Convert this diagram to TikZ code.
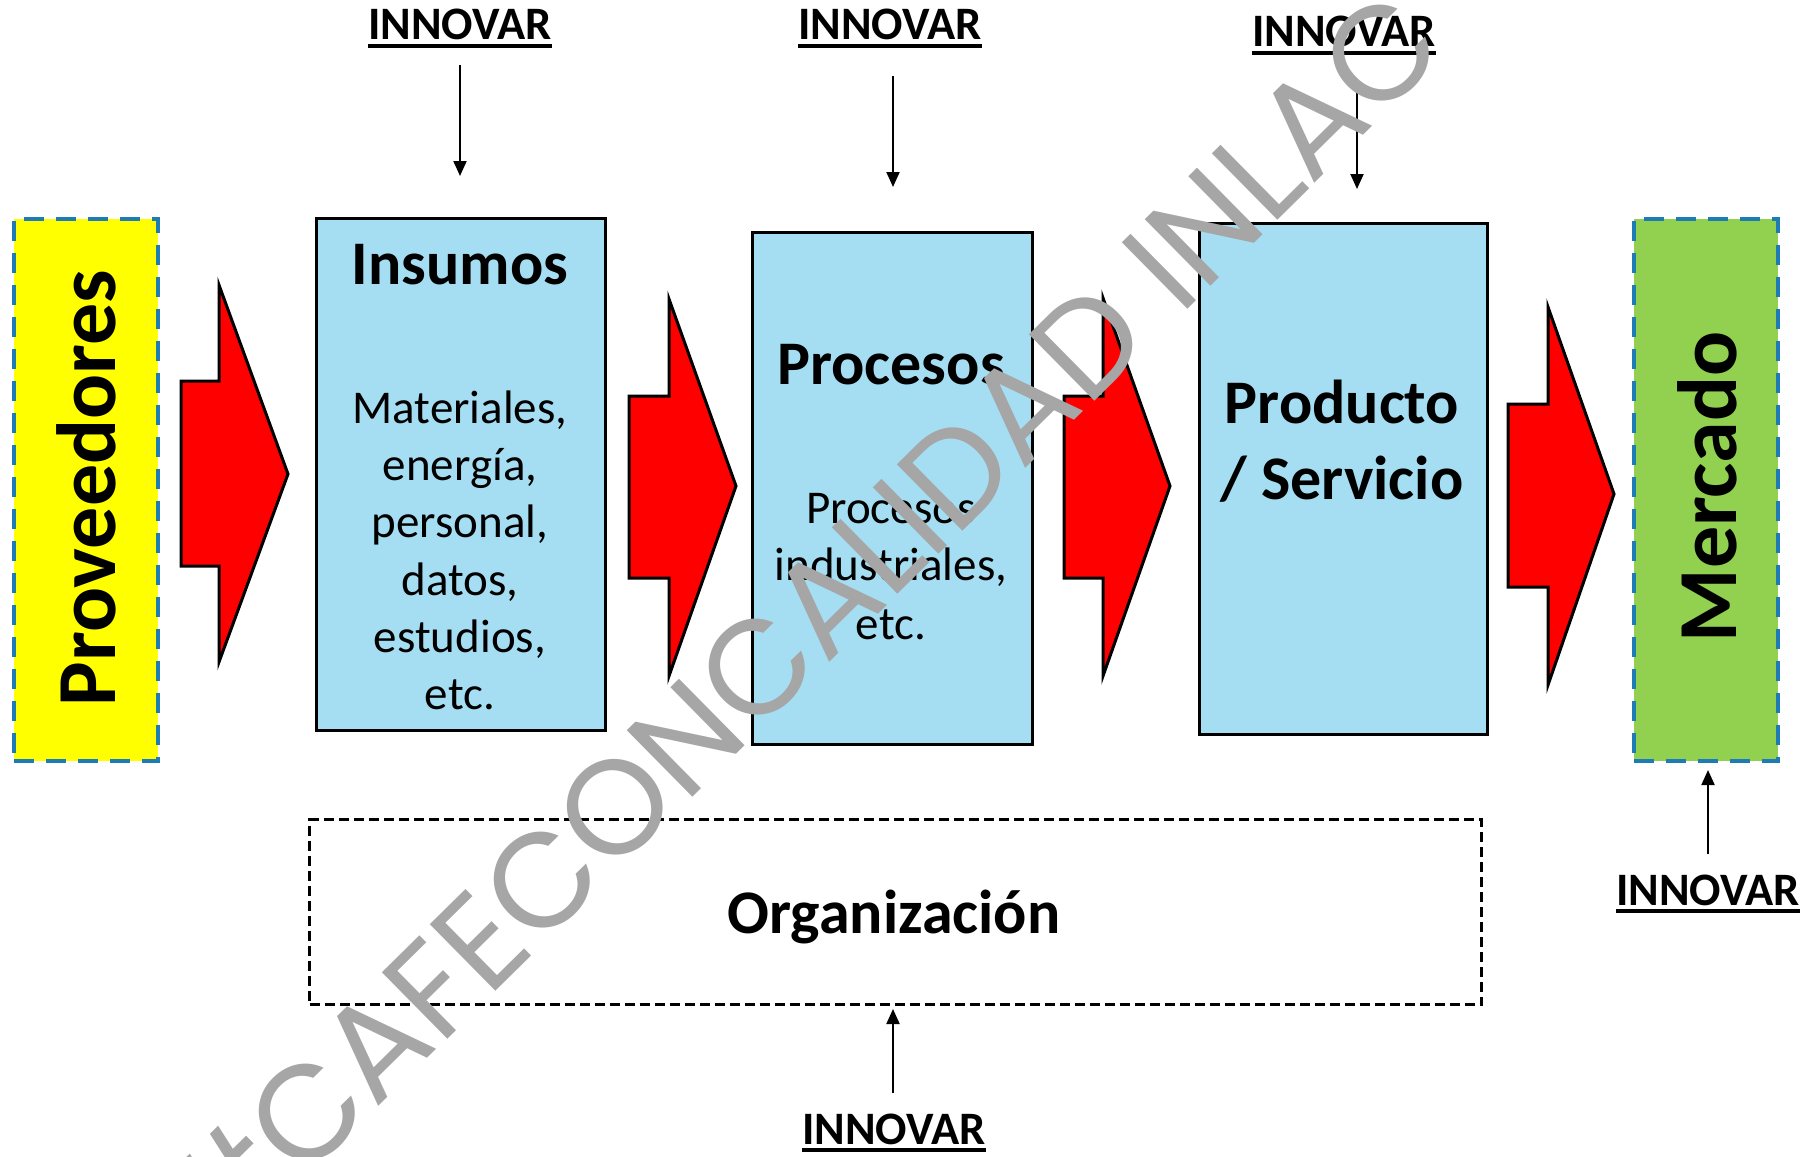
\documentclass[tikz,border=0pt]{standalone}
\usepackage{fontspec}
\setmainfont{Carlito}
\newfontfamily\wmfont{Poppins}
\usetikzlibrary{arrows.meta}
\definecolor{ybox}{HTML}{FFFF00}
\definecolor{gbox}{HTML}{92D050}
\definecolor{lblue}{HTML}{A5DEF2}
\definecolor{dblue}{HTML}{1F7BB4}
\definecolor{rarrow}{HTML}{FF0000}
\definecolor{wmgray}{HTML}{A6A6A6}
\newlength\wmA \newlength\wmC \newlength\wmT
\newcommand\wmtext{\#CAFECONCALIDAD INLAC}
\tikzset{
  bluebox/.style={draw=black, line width=3pt, fill=lblue, inner sep=0pt, anchor=north west},
  endbox/.style={draw=dblue, line width=3.5pt, dash pattern=on 20pt off 12pt, inner sep=0pt, anchor=north west},
  orgbox/.style={draw=black, line width=3pt, dash pattern=on 10pt off 5pt, inner sep=0pt, anchor=north west},
  redarrow/.style={draw=black, line width=3pt, fill=rarrow, line join=miter},
  titletxt/.style={font=\fontsize{62}{76}\selectfont\bfseries, inner sep=0pt, anchor=base},
  bodytxt/.style={font=\fontsize{47}{55}\selectfont, inner sep=0pt, anchor=base},
  vtxt/.style={font=\fontsize{84}{90}\selectfont\bfseries, rotate=90, inner sep=0pt},
  innov/.style={font=\fontsize{46.5}{50}\selectfont\bfseries, inner sep=0pt, anchor=base},
  uline/.style={line width=3.5pt},
  innarrow/.style={line width=2pt, -{Triangle[length=15pt,width=13pt]}},
  wmark/.style={text=wmgray, inner sep=0pt, anchor=base west, rotate=44.6}
}
\begin{document}
\settowidth\wmA{\wmfont\fontsize{100}{100}\selectfont\#}%
\settowidth\wmC{\wmfont\fontsize{100}{100}\selectfont C}%
\settowidth\wmT{\wmfont\fontsize{100}{100}\selectfont\wmtext}%
\begin{tikzpicture}[x=1pt,y=-1pt]
\useasboundingbox (0,0) rectangle (1811,1156);
% side boxes
\node[endbox, fill=ybox, minimum width=144pt, minimum height=542pt] (provbox) at (12,217) {};
\node[vtxt] (prov) at (86,488) {Proveedores};
\node[endbox, fill=gbox, minimum width=144pt, minimum height=542pt] (mercbox) at (1632,217) {};
\node[vtxt] (merc) at (1707,487) {Mercado};
% blue boxes
\node[bluebox, minimum width=289pt, minimum height=512pt] (ins) at (315,217) {};
\node[bluebox, minimum width=280pt, minimum height=512pt] (proc) at (751,231) {};
\node[bluebox, minimum width=288pt, minimum height=511pt] (prod) at (1198,222) {};
% red block arrows
\draw[redarrow] (181,381) -- (219,381) -- (219,285) -- (288,474) -- (219,662) -- (219,566) -- (181,566) -- cycle;
\draw[redarrow] (629,396) -- (669,396) -- (669,299) -- (736,486) -- (669,676) -- (669,578) -- (629,578) -- cycle;
\draw[redarrow] (1064,396) -- (1103,396) -- (1103,298) -- (1170,486) -- (1103,676) -- (1103,578) -- (1064,578) -- cycle;
\draw[redarrow] (1508,404) -- (1548,404) -- (1548,307) -- (1614,494) -- (1548,685) -- (1548,587) -- (1508,587) -- cycle;
% texts in boxes
\node[titletxt] (insT) at (460,284) {Insumos};
\node[bodytxt] (insB1) at (460,423) {Materiales,};
\node[bodytxt] (insB2) at (460,480) {energía,};
\node[bodytxt] (insB3) at (460,537) {personal,};
\node[bodytxt] (insB4) at (460,595) {datos,};
\node[bodytxt] (insB5) at (460,652) {estudios,};
\node[bodytxt] (insB6) at (460,709) {etc.};
\node[titletxt] (procT) at (891,384) {Procesos};
\node[bodytxt] (procB1) at (891,523) {Procesos};
\node[bodytxt] (procB2) at (891,580) {industriales,};
\node[bodytxt] (procB3) at (891,639) {etc.};
\node[titletxt] (prodT1) at (1342,423) {Producto};
\node[titletxt] (prodT2) at (1342,499) {/ Servicio};
% organizacion
\node[orgbox, minimum width=1172pt, minimum height=185pt] (org) at (308,818) {};
\node[titletxt] (orgT) at (894,933) {Organización};
% INNOVAR labels
\node[innov] (i1) at (460,40) {INNOVAR};
\node[innov] (i2) at (890,40) {INNOVAR};
\node[innov] (i3) at (1344,47) {INNOVAR};
\node[innov] (i4) at (1708,905) {INNOVAR};
\node[innov] (i5) at (894,1144) {INNOVAR};
\foreach \n in {i1,i2,i3,i4,i5}{
  \draw[uline] ([yshift=-6pt]\n.base west) -- ([yshift=-6pt]\n.base east);
}
% innovation arrows
\coordinate (t1) at (460,176);
\coordinate (t2) at (893,187);
\coordinate (t3) at (1357,189);
\coordinate (t4) at (1708,770);
\coordinate (t5) at (893,1009);
\draw[innarrow] ([yshift=-24pt]i1.south) -- (t1);
\draw[innarrow] ([xshift=3pt,yshift=-35pt]i2.south) -- (t2);
\draw[innarrow] ([xshift=13pt,yshift=-45pt]i3.south) -- (t3);
\draw[innarrow] ([yshift=20pt]i4.north) -- (t4);
\draw[innarrow] ([xshift=-1pt,yshift=20pt]i5.north) -- (t5);
% watermark
\pgfmathsetmacro\wmk{1508/(\wmT-\wmA-\wmC)}
\pgfmathsetmacro\wmsize{100*\wmk}
\pgfmathsetmacro\wmoff{(\wmA+0.5*\wmC)*\wmk}
\pgfmathsetmacro\wmx{339-\wmoff*cos(44.6)}
\pgfmathsetmacro\wmy{1146+\wmoff*sin(44.6)}
\begin{scope}
\clip (0,0) rectangle (1811,1156);
\node[wmark, font=\wmfont\fontsize{\wmsize}{\wmsize}\selectfont] (wm) at (\wmx,\wmy) {\wmtext};
\end{scope}
\end{tikzpicture}
\end{document}
